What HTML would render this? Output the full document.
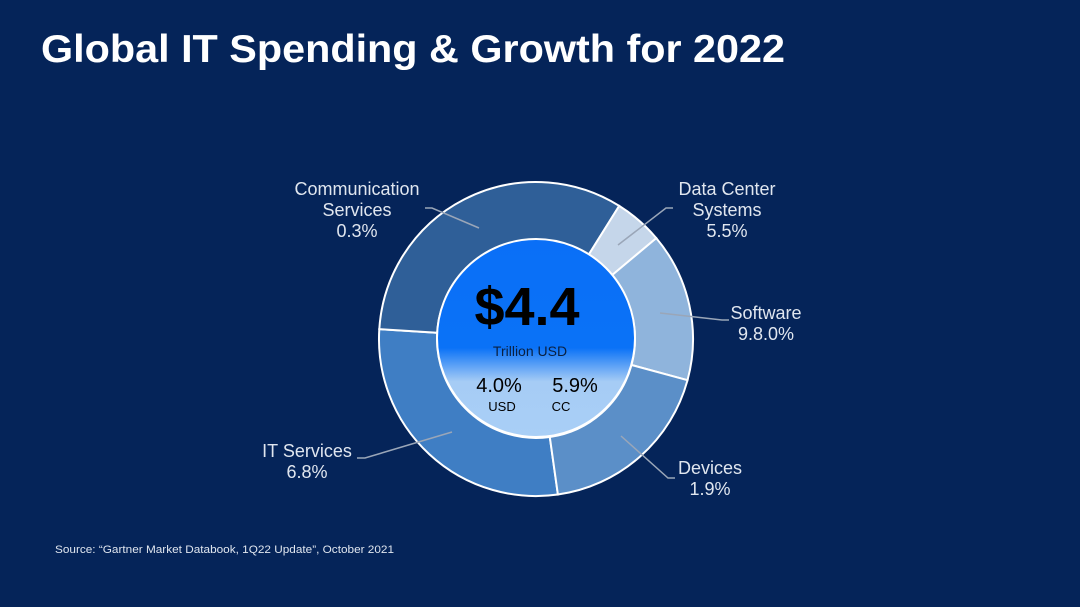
<!DOCTYPE html>
<html><head><meta charset="utf-8"><style>
html,body{margin:0;padding:0;background:#062459;}
svg{display:block}
text{font-family:"Liberation Sans",Arial,sans-serif}
</style></head><body>
<svg width="1080" height="607" viewBox="0 0 1080 607" xmlns="http://www.w3.org/2000/svg">
<defs>
<linearGradient id="g" x1="0" y1="0" x2="0" y2="1">
<stop offset="0" stop-color="#0a6ff7"/>
<stop offset="0.55" stop-color="#0a72f7"/>
<stop offset="0.72" stop-color="#a6ccf5"/>
<stop offset="1" stop-color="#a9cff6"/>
</linearGradient>
</defs>
<rect width="1080" height="607" fill="#052459"/>
<text x="41" y="62" font-size="39" font-weight="bold" fill="#fff" textLength="744" lengthAdjust="spacingAndGlyphs">Global IT Spending &amp; Growth for 2022</text>
<g stroke="#ffffff" stroke-width="2">
<path d="M557.9,494.5 A157,157 0 0 1 379.3,329.1 L437.2,332.8 A99,99 0 0 0 549.8,437 Z" fill="#3f7ec4"/>
<path d="M379.3,329.1 A157,157 0 0 1 619.2,205.9 L588.5,255 A99,99 0 0 0 437.2,332.8 Z" fill="#2f5f98"/>
<path d="M619.2,205.9 A157,157 0 0 1 656.3,238.1 L611.8,275.4 A99,99 0 0 0 588.5,255 Z" fill="#c5d6ea"/>
<path d="M656.3,238.1 A157,157 0 0 1 687.5,380.2 L631.5,365 A99,99 0 0 0 611.8,275.4 Z" fill="#8fb4dc"/>
<path d="M687.5,380.2 A157,157 0 0 1 557.9,494.5 L549.8,437 A99,99 0 0 0 631.5,365 Z" fill="#5b8fc8"/>
<circle cx="536" cy="338" r="99" fill="url(#g)"/>
</g>
<g stroke="#9aa6b8" stroke-width="1.5" fill="none">
<polyline points="425,208 432,208 479,228"/>
<polyline points="673,208 666,208 618,245"/>
<polyline points="660,313 722,320 729,320"/>
<polyline points="621,436 668,478 675,478"/>
<polyline points="452,432 365,458 357,458"/>
</g>
<g fill="#e0e6ef" font-size="18" text-anchor="middle">
<text x="357" y="195">Communication</text><text x="357" y="216">Services</text><text x="357" y="237">0.3%</text>
<text x="727" y="195">Data Center</text><text x="727" y="216">Systems</text><text x="727" y="237">5.5%</text>
<text x="766" y="319">Software</text><text x="766" y="340">9.8.0%</text>
<text x="710" y="474">Devices</text><text x="710" y="495">1.9%</text>
<text x="307" y="457">IT Services</text><text x="307" y="478">6.8%</text>
</g>
<g text-anchor="middle" fill="#000">
<text x="527" y="325" font-size="54" font-weight="bold">$4.4</text>
<text x="530" y="356" font-size="14" fill="#0a2040">Trillion USD</text>
<text x="499" y="392" font-size="20">4.0%</text>
<text x="575" y="392" font-size="20">5.9%</text>
<text x="502" y="411" font-size="13">USD</text>
<text x="561" y="411" font-size="13">CC</text>
</g>
<text x="55" y="553" font-size="11" fill="#e0e6ef" textLength="339" lengthAdjust="spacingAndGlyphs">Source: “Gartner Market Databook, 1Q22 Update”, October 2021</text>
</svg>
</body></html>
